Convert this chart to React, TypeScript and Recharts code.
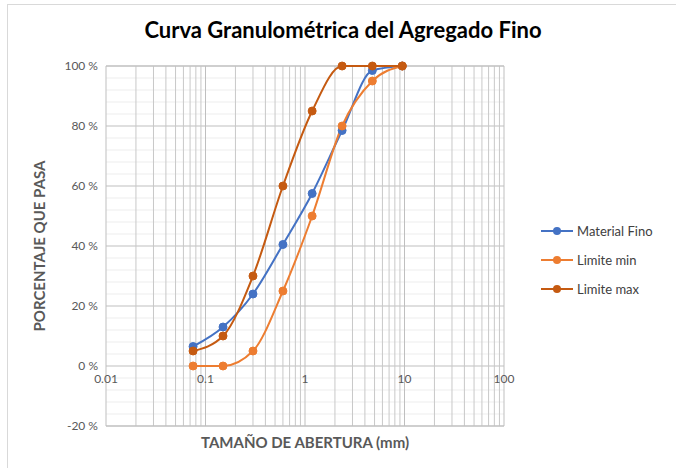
import { LineChart, Line, XAxis, YAxis, CartesianGrid, ReferenceLine, ReferenceDot } from 'recharts'

// sieve openings (mm) and % passing
const SIZES = [0.075, 0.15, 0.3, 0.6, 1.18, 2.36, 4.75, 9.5]
const FINO = [6.5, 13, 24, 40.5, 57.5, 78.5, 98.5, 100]
const LIM_MIN = [0, 0, 5, 25, 50, 80, 95, 100]
const LIM_MAX = [5, 10, 30, 60, 85, 100, 100, 100]

const X_TICKS = [0.01, 0.1, 1, 10, 100]
const X_MINOR = [2, 3, 4, 5, 6, 7, 8, 9].flatMap((m) => [0.01 * m, 0.1 * m, 1 * m, 10 * m])
const Y_TICKS = [-20, 0, 20, 40, 60, 80, 100]
const Y_MINOR = [-16, -12, -8, -4, 4, 8, 12, 16, 24, 28, 32, 36, 44, 48, 52, 56, 64, 68, 72, 76, 84, 88, 92, 96]

const SERIES = [
  { key: 'fino', name: 'Material Fino', color: '#4472C4' },
  { key: 'min', name: 'Limite min', color: '#ED7D31' },
  { key: 'max', name: 'Limite max', color: '#C55A11' },
]

const FONT = 'Lato, "Open Sans", sans-serif'

const data = SIZES.map((s, i) => ({ size: s, fino: FINO[i], min: LIM_MIN[i], max: LIM_MAX[i] }))

function LegendBox() {
  return (
    <div style={{ position: 'absolute', left: 540, top: 216, fontFamily: FONT, fontSize: 13, color: '#404040' }}>
      {SERIES.map((s) => (
        <div key={s.key} style={{ display: 'flex', alignItems: 'center', height: 29 }}>
          <svg width={34} height={10} style={{ marginRight: 3 }}>
            <line x1={1} y1={5} x2={33} y2={5} stroke={s.color} strokeWidth={2} />
            <circle cx={17} cy={5} r={4} fill={s.color} />
          </svg>
          <span>{s.name}</span>
        </div>
      ))}
    </div>
  )
}

export default function App() {
  return (
    <div style={{ position: 'absolute', left: 0, top: 0, width: 676, height: 468, background: '#fff' }}>
      <div style={{ position: 'absolute', left: 7, top: 4, width: 669, height: 464, borderLeft: '1px solid #d9d9d9', borderTop: '1px solid #d9d9d9' }} />
      <div
        style={{
          position: 'absolute',
          top: 16,
          left: 0,
          width: 686,
          textAlign: 'center',
          fontFamily: FONT,
          fontWeight: 'bold',
          fontSize: 22,
          color: '#000',
        }}
      >
        Curva Granulométrica del Agregado Fino
      </div>
      <LineChart
        width={676}
        height={468}
        data={data}
        margin={{ top: 66, right: 172, left: 26, bottom: 0 }}
        style={{ position: 'absolute', left: 0, top: 0 }}
      >
        <CartesianGrid stroke="#BFBFBF" vertical={false} />
        {Y_MINOR.map((v) => (
          <ReferenceLine key={`ym${v}`} y={v} stroke="#EDEDED" />
        ))}
        {X_MINOR.map((v) => (
          <ReferenceLine key={`xm${v}`} x={v} stroke="#C8C8C8" />
        ))}
        {X_TICKS.map((v) => (
          <ReferenceLine key={`xt${v}`} x={v} stroke="#BFBFBF" />
        ))}
        <ReferenceLine y={100} stroke="#BFBFBF" />
        <ReferenceLine y={-20} stroke="#BFBFBF" />
        <XAxis
          dataKey="size"
          type="number"
          scale="log"
          domain={[0.01, 100]}
          ticks={X_TICKS}
          allowDataOverflow
          tick={false}
          axisLine={false}
          tickLine={false}
          height={42}
          label={{ value: 'TAMAÑO DE ABERTURA (mm)', position: 'insideBottom', offset: 20, fill: '#595959', fontSize: 15, fontWeight: 'bold', fontFamily: FONT }}
        />
        <YAxis
          type="number"
          domain={[-20, 100]}
          ticks={Y_TICKS}
          tickFormatter={(v) => `${v} %`}
          tick={{ fill: '#595959', fontSize: 12, fontFamily: FONT }}
          axisLine={false}
          tickLine={false}
          width={80}
          label={{ value: 'PORCENTAJE QUE PASA', angle: -90, position: 'insideLeft', offset: 14, textAnchor: 'middle', fill: '#595959', fontSize: 15, fontWeight: 'bold', fontFamily: FONT }}
        />
        {X_TICKS.map((v) => (
          <ReferenceDot
            key={`xl${v}`}
            x={v}
            y={0}
            r={0}
            ifOverflow="visible"
            label={{ value: String(v), position: 'bottom', offset: 8, fill: '#595959', fontSize: 12, fontFamily: FONT }}
          />
        ))}
        {SERIES.map((s) => (
          <Line
            key={s.key}
            type="monotone"
            dataKey={s.key}
            name={s.name}
            stroke={s.color}
            strokeWidth={2}
            dot={{ r: 4, fill: s.color, stroke: s.color, strokeWidth: 1 }}
            isAnimationActive={false}
          />
        ))}
      </LineChart>
      <LegendBox />
    </div>
  )
}
